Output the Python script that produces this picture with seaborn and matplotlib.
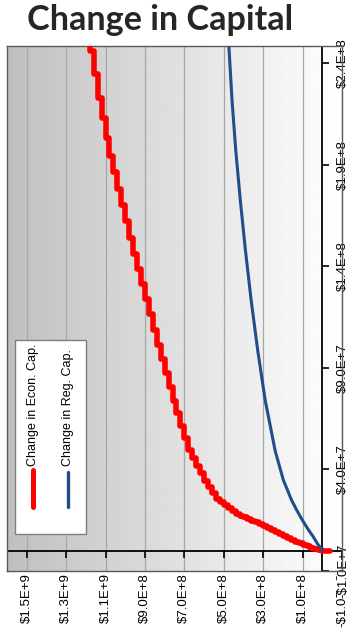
import matplotlib
matplotlib.use("Agg")
import matplotlib.pyplot as plt
import numpy as np
import pandas as pd
import seaborn as sns
from matplotlib.markers import TICKDOWN, TICKRIGHT
from matplotlib.patches import Rectangle
from matplotlib.lines import Line2D

# ---------------- data (values in millions of $) ----------------
TITLE = "Change in Capital"
SERIES = ["Change in Econ. Cap.", "Change in Reg. Cap."]
COLORS = ["#FF0000", "#1F4E8A"]

# red series (stepped): driver value (vertical axis) and change in capital (horizontal axis)
econ_driver_m = [0.0, 0.3, 0.84, 1.42, 2.08, 2.85, 3.62, 4.39, 5.17, 6.03, 7.08, 8.14, 9.20,
                 10.25, 11.31, 12.21, 13.05, 13.89, 14.73, 15.57, 16.41, 17.25, 18.17, 19.63,
                 21.08, 22.54, 24.0, 25.5, 28.5, 31.4, 34.4, 38.1, 41.9, 45.8, 49.6, 55.5,
                 61.6, 67.7, 73.7, 80.5, 87.4, 94.4, 101.5, 108.9, 116.3, 123.7, 131.2, 138.7,
                 146.1, 154.0, 162.1, 170.2, 178.2, 186.3, 194.3, 203.4, 213.1, 222.9, 234.6,
                 246.2, 257.8]
econ_change_m = [-40, 0, 20, 40, 60, 80, 100, 120, 140, 160, 180, 200, 220,
                 240, 260, 280, 300, 320, 340, 360, 380, 400, 420, 440,
                 460, 480, 500, 520, 540, 560, 580, 600, 620, 640, 660, 680,
                 700, 720, 740, 760, 780, 800, 820, 840, 860, 880, 900, 920,
                 940, 960, 980, 1000, 1020, 1040, 1060, 1080, 1100, 1120, 1140,
                 1160, 1180]

# blue series (smooth)
reg_driver_m = [0.0, 1.5, 3.5, 6.9, 10.5, 15.2, 20.0, 25.1, 34.9, 49.1, 74.2, 98.8,
                123.3, 147.9, 172.5, 197.0, 221.6, 248.2, 252.0]
reg_change_m = [0, 10, 25, 46, 72, 102, 130, 157, 198, 239, 290, 328,
                361, 390, 416, 439, 458, 474, 476]

cap_ticks_m = [-100, 100, 300, 500, 700, 900, 1100, 1300, 1500]
cap_tick_labels = ["-$1.0E+8", "$1.0E+8", "$3.0E+8", "$5.0E+8", "$7.0E+8",
                   "$9.0E+8", "$1.1E+9", "$1.3E+9", "$1.5E+9"]
drv_ticks_m = [-10, 40, 90, 140, 190, 240]
drv_tick_labels = ["-$1.0E+7", "$4.0E+7", "$9.0E+7", "$1.4E+8", "$1.9E+8", "$2.4E+8"]
cap_range_m = (1600, -100)
drv_range_m = (-10, 248.5)

M = 1e6

# ---------------- figure ----------------
sns.set_theme(style="white")
plt.rcParams["font.family"] = ["Liberation Sans", "DejaVu Sans"]

W, H = 352, 642
fig = plt.figure(figsize=(W / 100, H / 100), dpi=100)
fig.patch.set_facecolor("white")

L, R, T, B = 7, 342, 46, 571
pos = [L / W, (H - B) / H, (R - L) / W, (B - T) / H]

# gradient background
bg = fig.add_axes(pos, zorder=0)
grad = np.linspace(0.75, 1.0, 256).reshape(1, -1)
bg.imshow(grad, cmap="gray", vmin=0, vmax=1, aspect="auto", interpolation="bilinear",
          extent=[0, 1, 0, 1])
bg.set_axis_off()

ax = fig.add_axes(pos, zorder=1)
ax.set_facecolor("none")

econ_df = pd.DataFrame({"driver": np.array(econ_driver_m) * M,
                        "change": np.array(econ_change_m) * M})
reg_df = pd.DataFrame({"driver": np.array(reg_driver_m) * M,
                       "change": np.array(reg_change_m) * M})

sns.lineplot(data=econ_df, x="change", y="driver", orient="y", sort=True, estimator=None,
             color=COLORS[0], lw=4.0, drawstyle="steps-post", ax=ax, legend=False, zorder=3)
sns.lineplot(data=reg_df, x="change", y="driver", orient="y", sort=True, estimator=None,
             color=COLORS[1], lw=2.2, ax=ax, legend=False, zorder=4)

ax.set_xlim(cap_range_m[0] * M, cap_range_m[1] * M)
ax.set_ylim(drv_range_m[0] * M, drv_range_m[1] * M)

# gridlines
ax.set_xticks([v * M for v in cap_ticks_m])
ax.set_xticklabels(cap_tick_labels, rotation=90)
ax.grid(axis="x", color="#a6a6a6", lw=0.9)
ax.grid(axis="y", visible=False)
ax.set_axisbelow(True)

ax.yaxis.tick_right()
ax.set_yticks([v * M for v in drv_ticks_m])
ax.set_yticklabels(drv_tick_labels, rotation=90, va="center")

ax.tick_params(axis="x", length=0, pad=1.5, labelsize=9.5, labelcolor="black")
ax.tick_params(axis="y", length=0, pad=-3.6, labelsize=9.5, labelcolor="black")
for lbl in ax.get_yticklabels():
    lbl.set_bbox(dict(facecolor="white", edgecolor="none", pad=0.3))

ax.set_xlabel("")
ax.set_ylabel("")

for s in ax.spines.values():
    s.set_visible(True)
    s.set_color("#595959")
    s.set_linewidth(1.0)

# axis lines through zero with tick marks
ax.axhline(0, color="black", lw=1.3, zorder=2)
ax.axvline(0, color="black", lw=1.3, zorder=2)
ax.plot([v * M for v in cap_ticks_m], [0] * len(cap_ticks_m), ls="none", marker=TICKDOWN,
        ms=5, mew=1.2, color="black", zorder=2)
ax.plot([0] * len(drv_ticks_m), [v * M for v in drv_ticks_m], ls="none", marker=TICKRIGHT,
        ms=5, mew=1.2, color="black", zorder=2, clip_on=False)

# legend (rotated, drawn by hand)
def axx(px):
    return (px - L) / (R - L)

def axy(py):
    return (B - py) / (B - T)

ax.add_patch(Rectangle((axx(15), axy(534)), axx(86) - axx(15), axy(340) - axy(534),
                       transform=ax.transAxes, facecolor="white", edgecolor="#7f7f7f",
                       lw=1.0, zorder=6))
for i, (name, col, lw, xpx, y_top) in enumerate(
        [(SERIES[0], COLORS[0], 3.6, 33, 470), (SERIES[1], COLORS[1], 2.4, 68, 472)]):
    ax.add_line(Line2D([axx(xpx), axx(xpx)], [axy(507), axy(y_top)], transform=ax.transAxes,
                       color=col, lw=lw, solid_capstyle="round", zorder=7))
    ax.text(axx(xpx), axy(466), name, transform=ax.transAxes, rotation=90,
            ha="center", va="bottom", fontsize=9, color="black", zorder=7)

# title, fitted to reference width
title = fig.text((28 + 293) / 2 / W, 1 - 30 / H, TITLE, ha="center", va="baseline",
                 fontsize=22, fontweight="bold", family=["Lato", "DejaVu Sans"])
fig.canvas.draw()
bb = title.get_window_extent()
title.set_fontsize(22 * 265 / bb.width)

fig.savefig("out.png", dpi=100)
